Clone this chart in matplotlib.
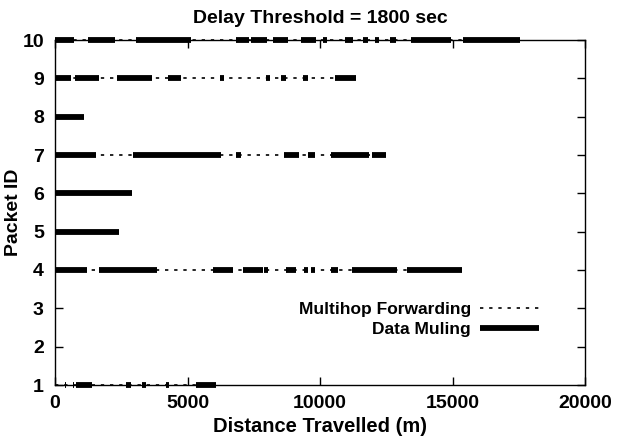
import matplotlib
matplotlib.use("Agg")
import matplotlib.pyplot as plt
from matplotlib.lines import Line2D

plt.rcParams['font.family'] = ['Liberation Sans', 'DejaVu Sans']
plt.rcParams['font.weight'] = 'bold'

# packet ids and total distance travelled per packet (m)
packet_ids = [10, 9, 8, 7, 6, 5, 4, 1]
total_distance = [17550, 11370, 1100, 12480, 2900, 2420, 15340, 6070]

# data-muling intervals (start, end) in metres for each packet
muling_10 = [(0, 720), (1240, 2270), (3040, 5120), (6820, 7320), (7410, 8010),
             (8240, 8800), (9270, 9850), (10100, 10280), (10930, 11260),
             (11620, 11800), (12060, 12240), (12650, 12880), (13450, 14950),
             (15400, 17550)]
muling_9 = [(0, 590), (740, 1650), (2340, 3650), (4280, 4760), (6220, 6370),
            (7970, 8120), (8540, 8720), (9360, 9560), (10550, 11370)]
muling_8 = [(0, 1100)]
muling_7 = [(0, 1540), (2940, 6280), (6840, 7000), (8650, 9190), (9560, 9810),
            (10400, 11840), (11960, 12480)]
muling_6 = [(0, 2900)]
muling_5 = [(0, 2420)]
muling_4 = [(0, 1190), (1650, 3840), (5960, 6710), (7090, 7840), (7875, 8050),
            (8710, 9090), (9400, 9560), (9660, 9810), (10400, 10690),
            (11210, 12900), (13275, 15340)]
muling_1 = [(360, 400), (680, 720), (800, 1400), (2690, 2870), (3300, 3440),
            (4180, 4320), (5330, 6080)]
muling = [muling_10, muling_9, muling_8, muling_7, muling_6, muling_5,
          muling_4, muling_1]

x_ticks = [0, 5000, 10000, 15000, 20000]
y_ticks = [1, 2, 3, 4, 5, 6, 7, 8, 9, 10]

fig = plt.figure(figsize=(6.17, 4.43), dpi=100)
ax = fig.add_axes([55/617, 1-385/443, 530/617, 345/443])

mh_kw = dict(color='black', lw=1.2, dashes=(2, 3.5), solid_capstyle='butt',
             dash_capstyle='butt', clip_on=False, zorder=3)
dm_kw = dict(color='black', lw=4.2, solid_capstyle='butt', clip_on=False,
             zorder=4)

for pid, tot, segs in zip(packet_ids, total_distance, muling):
    ax.plot([0, tot], [pid, pid], **mh_kw)
    for s, e in segs:
        ax.plot([s, e], [pid, pid], **dm_kw)

ax.set_xlim(0, 20000)
ax.set_ylim(1, 10)
ax.set_xticks(x_ticks)
ax.set_yticks(y_ticks)
ax.tick_params(direction='in', length=6, width=1, top=True, right=True,
               labelsize=14, pad=7, color='black')
ax.tick_params(axis='y', pad=8)
for lab in ax.get_xticklabels() + ax.get_yticklabels():
    lab.set_fontweight('bold')
for sp in ax.spines.values():
    sp.set_linewidth(1)

ax.set_title('Delay Threshold = 1800 sec', fontsize=14, fontweight='bold', pad=12)
ax.set_xlabel('Distance Travelled (m)', fontsize=14.5, fontweight='bold', labelpad=4)
ax.set_ylabel('Packet ID', fontsize=14, fontweight='bold')
ax.yaxis.set_label_coords(-33/530, 0.5)

handles = [Line2D([], [], color='black', lw=1.2, dashes=(2, 3.5)),
           Line2D([], [], color='black', lw=4.2, solid_capstyle='butt')]
leg = ax.legend(handles, ['Multihop Forwarding', 'Data Muling'],
                loc='center right', bbox_to_anchor=(0.913, 0.19),
                frameon=False, markerfirst=False, handlelength=3.4,
                handletextpad=0.5, labelspacing=0.3, borderpad=0,
                borderaxespad=0, prop={'size': 12.5, 'weight': 'bold'})

fig.savefig('out.png', dpi=100)
